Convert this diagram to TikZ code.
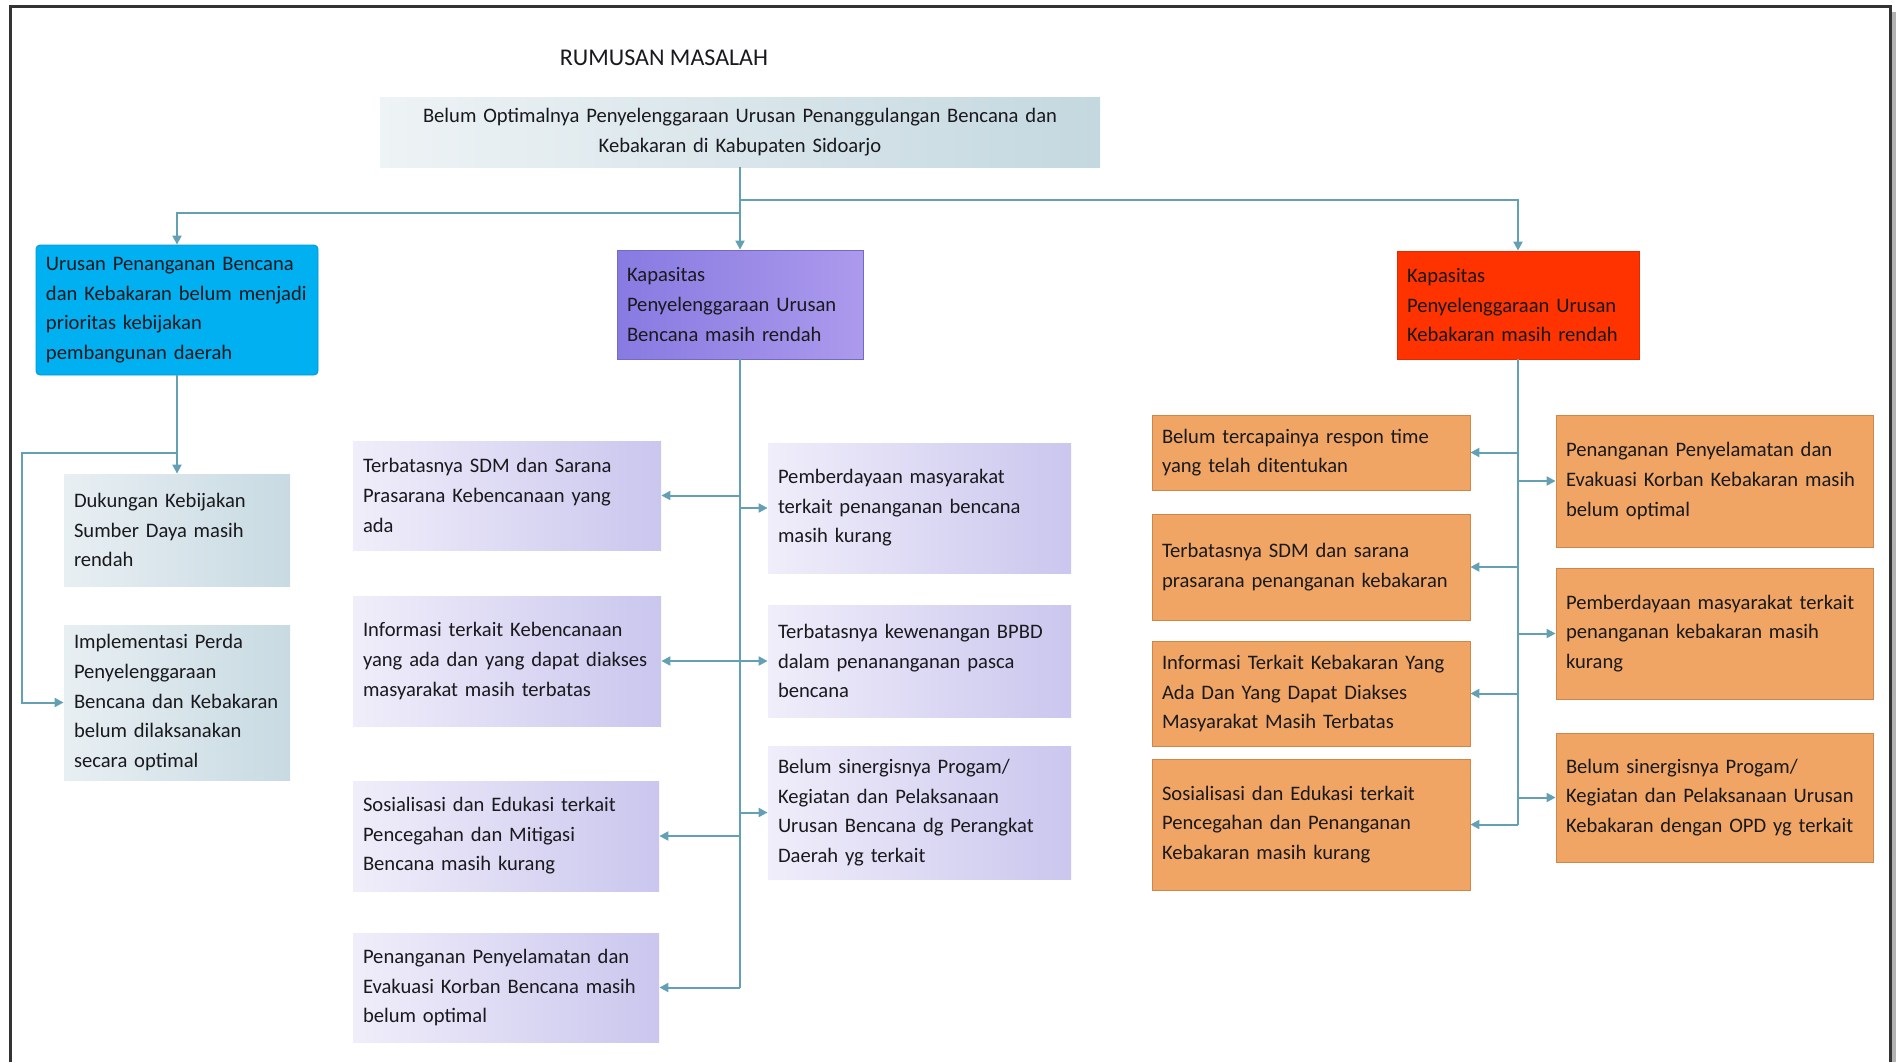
\documentclass[tikz,border=0pt]{standalone}
\usepackage{fontspec}
\setmainfont{Carlito}
\usetikzlibrary{arrows.meta}
\definecolor{conncol}{RGB}{100,160,180}
\definecolor{blueb}{RGB}{0,176,240}
\definecolor{redb}{RGB}{255,51,0}
\definecolor{orangeb}{RGB}{240,165,100}
\definecolor{orangeedge}{RGB}{205,135,75}
\definecolor{txt}{RGB}{25,25,30}
\newcommand\bx[7]{%
  \pgfmathsetmacro\bxw{(#5-#3)*0.5}%
  \pgfmathsetmacro\bxh{(#6-#4)*0.5}%
  \pgfmathsetmacro\bxt{(#5-#3)*0.5-10}%
  \node[#2, minimum width=\bxw pt, minimum height=\bxh pt, text width=\bxt pt] (#1) at ({(#3+#5)/2},{(#4+#6)/2}) {#7};}
\tikzset{
  basebox/.style={rectangle, inner xsep=5pt, inner ysep=2pt, align=left, text=txt,
    font=\fontsize{10.3pt}{14.8pt}\selectfont},
  boxtop/.style={basebox, align=center, left color={rgb,255:red,238;green,243;blue,245}, right color={rgb,255:red,196;green,216;blue,224}},
  boxblue/.style={basebox, fill=blueb, rounded corners=2pt, draw={rgb,255:red,0;green,150;blue,210}},
  boxpurple/.style={basebox, left color={rgb,255:red,135;green,122;blue,225}, right color={rgb,255:red,172;green,154;blue,236}, draw={rgb,255:red,115;green,105;blue,200}},
  boxred/.style={basebox, fill=redb, draw={rgb,255:red,230;green,40;blue,0}},
  boxgrey/.style={basebox, left color={rgb,255:red,232;green,239;blue,243}, right color={rgb,255:red,200;green,218;blue,226}},
  boxlav/.style={basebox, left color={rgb,255:red,240;green,238;blue,250}, right color={rgb,255:red,202;green,198;blue,238}},
  boxorange/.style={basebox, fill=orangeb, draw=orangeedge},
  conn/.style={draw=conncol, line width=1pt},
  arr/.style={conn, -{Triangle[length=4.5pt,width=4.5pt]}},
}
\begin{document}
\begin{tikzpicture}[x=0.5pt,y=-0.5pt]
\useasboundingbox (0,0) rectangle (1896,1062);
\fill[white] (0,0) rectangle (1896,1062);
% frame
\draw[line width=2pt, black!30] (1894,12) -- (1894,1062);
\draw[line width=1.5pt, black!80] (10,1062) -- (10,6) -- (1890,6) -- (1890,1062);
% title
\node[font=\fontsize{12pt}{14pt}\selectfont, text=txt] (title) at (664,58) {RUMUSAN MASALAH};
% top box
\bx{top}{boxtop}{380}{97}{1100}{167}{Belum Optimalnya Penyelenggaraan Urusan Penanggulangan Bencana dan\\Kebakaran di Kabupaten Sidoarjo}
% level 1
\bx{blue}{boxblue}{36}{245}{318}{375}{Urusan Penanganan Bencana\\dan Kebakaran belum menjadi\\prioritas kebijakan\\pembangunan daerah}
\bx{purple}{boxpurple}{617}{250}{863}{359}{Kapasitas\\Penyelenggaraan Urusan\\Bencana masih rendah}
\bx{red}{boxred}{1397}{251}{1639}{359}{Kapasitas\\Penyelenggaraan Urusan\\Kebakaran masih rendah}
% left branch
\bx{duk}{boxgrey}{64}{474}{290}{586}{Dukungan Kebijakan\\Sumber Daya masih\\rendah}
\bx{impl}{boxgrey}{64}{625}{290}{780}{Implementasi Perda\\Penyelenggaraan\\Bencana dan Kebakaran\\belum dilaksanakan\\secara optimal}
% center branch
\bx{sdm}{boxlav}{353}{441}{661}{550}{Terbatasnya SDM dan Sarana\\Prasarana Kebencanaan yang\\ada}
\bx{info}{boxlav}{353}{596}{661}{726}{Informasi terkait Kebencanaan\\yang ada dan yang dapat diakses\\masyarakat masih terbatas}
\bx{sos}{boxlav}{353}{781}{659}{891}{Sosialisasi dan Edukasi terkait\\Pencegahan dan Mitigasi\\Bencana masih kurang}
\bx{pen}{boxlav}{353}{933}{659}{1042}{Penanganan Penyelamatan dan\\Evakuasi Korban Bencana masih\\belum optimal}
\bx{pemb}{boxlav}{768}{443}{1071}{573}{Pemberdayaan masyarakat\\terkait penanganan bencana\\masih kurang}
\bx{kew}{boxlav}{768}{605}{1071}{717}{Terbatasnya kewenangan BPBD\\dalam penananganan pasca\\bencana}
\bx{sin}{boxlav}{768}{746}{1071}{879}{Belum sinergisnya Progam/\\Kegiatan dan Pelaksanaan\\Urusan Bencana dg Perangkat\\Daerah yg terkait}
% right branch
\bx{oa}{boxorange}{1152}{415}{1470}{490}{Belum tercapainya respon time\\yang telah ditentukan}
\bx{ob}{boxorange}{1152}{514}{1470}{620}{Terbatasnya SDM dan sarana\\prasarana penanganan kebakaran}
\bx{oc}{boxorange}{1152}{641}{1470}{746}{Informasi Terkait Kebakaran Yang\\Ada Dan Yang Dapat Diakses\\Masyarakat Masih Terbatas}
\bx{od}{boxorange}{1152}{759}{1470}{890}{Sosialisasi dan Edukasi terkait\\Pencegahan dan Penanganan\\Kebakaran masih kurang}
\bx{ra}{boxorange}{1556}{415}{1873}{547}{Penanganan Penyelamatan dan\\Evakuasi Korban Kebakaran masih\\belum optimal}
\bx{rb}{boxorange}{1556}{568}{1873}{699}{Pemberdayaan masyarakat terkait\\penanganan kebakaran masih\\kurang}
\bx{rc}{boxorange}{1556}{733}{1873}{862}{Belum sinergisnya Progam/\\Kegiatan dan Pelaksanaan Urusan\\Kebakaran dengan OPD yg terkait}
% connectors top
\coordinate (jR) at (740,200);
\coordinate (jL) at (740,213);
\draw[conn] (top.south) -- (jL);
\draw[arr] (jL) -- (purple.north);
\draw[arr] (jL) -| (blue.north);
\draw[arr] (jR) -| (red.north);
% left
\coordinate (jB) at (177,453);
\coordinate (jB2) at (22,453);
\draw[conn] (blue.south) -- (jB);
\draw[arr] (jB) -- (duk.north);
\draw[arr] (jB) -- (jB2) |- (impl.west);
% center trunk
\draw[conn] (purple.south) -- (purple.south |- pen.east);
\draw[arr] (purple.south |- sdm.east) -- (sdm.east);
\draw[arr] (purple.south |- info.east) -- (info.east);
\draw[arr] (purple.south |- sos.east) -- (sos.east);
\draw[arr] (purple.south |- pen.east) -- (pen.east);
\draw[arr] (purple.south |- pemb.west) -- (pemb.west);
\draw[arr] (purple.south |- kew.west) -- (kew.west);
\draw[arr] (purple.south |- sin.west) -- (sin.west);
% right trunk
\draw[conn] (red.south) -- (red.south |- od.east);
\draw[arr] (red.south |- oa.east) -- (oa.east);
\draw[arr] (red.south |- ob.east) -- (ob.east);
\draw[arr] (red.south |- oc.east) -- (oc.east);
\draw[arr] (red.south |- od.east) -- (od.east);
\draw[arr] (red.south |- ra.west) -- (ra.west);
\draw[arr] (red.south |- rb.west) -- (rb.west);
\draw[arr] (red.south |- rc.west) -- (rc.west);
\end{tikzpicture}
\end{document}
